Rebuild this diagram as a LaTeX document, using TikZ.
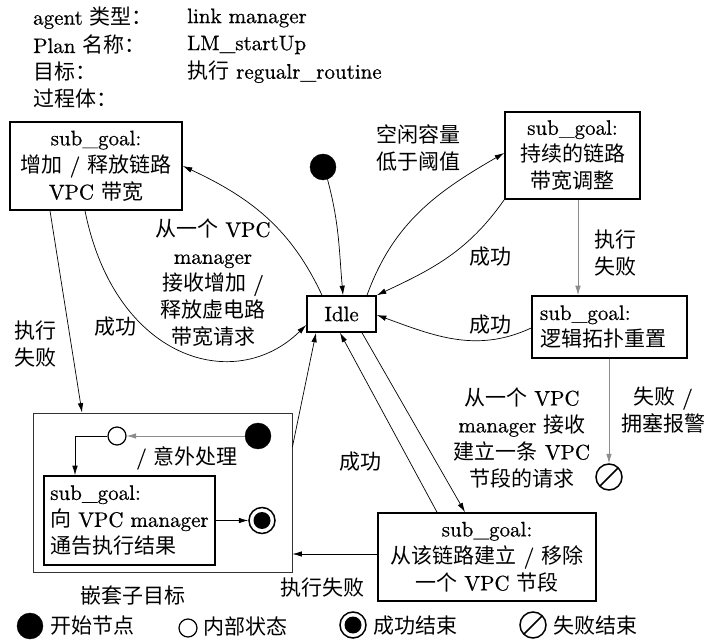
\documentclass[tikz,border=0pt]{standalone}
\usepackage{fontspec}
\setmainfont{lmroman10-regular}[Extension=.otf, FakeBold=0.6]
\newfontfamily\cjkfont{Noto Sans CJK SC}
\newcommand{\ZH}[1]{{\cjkfont #1}}
\usetikzlibrary{arrows.meta}
\tikzset{
  every node/.style={font=\fontsize{21}{27}\selectfont},
  goal/.style={draw, line width=1.6pt, align=center, inner sep=0pt},
  lab/.style={align=center, inner sep=0pt},
  arr/.style={-{Latex[length=9.5pt,width=5.5pt]}, line width=0.7pt},
  garr/.style={arr, draw=black!45},
  startdot/.style={circle, fill=black, draw=black, minimum size=26pt, inner sep=0pt},
  statedot/.style={circle, draw=black, line width=1.2pt, minimum size=18pt, inner sep=0pt},
  enddot/.style={circle, draw=black, line width=1.5pt, minimum size=26pt, inner sep=0pt,
    path picture={\fill[black] (path picture bounding box.center) circle (8.5pt);}},
  faildot/.style={circle, draw=black, line width=1.5pt, minimum size=26pt, inner sep=0pt,
    path picture={\draw[line width=1.5pt] (path picture bounding box.south west) -- (path picture bounding box.north east);}}
}
\begin{document}
\begin{tikzpicture}[x=1pt,y=1pt]
\useasboundingbox (0,0) rectangle (710,-644);
% header
\node[lab, anchor=west] (h1) at (33,-18) {agent \ZH{类型：}};
\node[lab, anchor=west] (h2) at (33,-45) {Plan \ZH{名称：}};
\node[lab, anchor=west] (h3) at (33,-72) {\ZH{目标：}};
\node[lab, anchor=west] (h4) at (33,-99) {\ZH{过程体：}};
\node[lab, anchor=west] (h5) at (187,-18) {link manager};
\node[lab, anchor=west] (h6) at (187,-45) {LM\_startUp};
\node[lab, anchor=west] (h7) at (187,-72) {\ZH{执行} regualr\_routine};
% boxes
\node[goal, minimum width=172pt, minimum height=88pt] (A) at (96,-166) {sub\_goal:\\\ZH{增加} / \ZH{释放链路}\\VPC \ZH{带宽}};
\node[goal, minimum width=135pt, minimum height=87pt] (B) at (572.5,-155.5) {sub\_goal:\\\ZH{持续的链路}\\\ZH{带宽调整}};
\node[goal, text width=139pt, inner xsep=8pt, minimum height=62pt, align=left] (C) at (609.5,-327) {sub\_goal:\\\ZH{逻辑拓扑重置}};
\node[goal, minimum width=218pt, minimum height=88pt] (D) at (487,-557) {sub\_goal:\\\ZH{从该链路建立} / \ZH{移除}\\\ZH{一个} VPC \ZH{节段}};
\node[goal, minimum width=69pt, minimum height=36pt] (Idle) at (341.5,-314) {Idle};
\node[draw, line width=0.8pt, draw=black!80, minimum width=259pt, minimum height=159pt] (E) at (162.5,-492.5) {};
\node[goal, align=left, minimum width=171pt, minimum height=89pt] (F) at (129.5,-520.5) {sub\_goal:\\\ZH{向} VPC manager\\\ZH{通告执行结果}};
% states
\node[startdot] (S) at (323,-167) {};
\node[startdot] (IS) at (258,-436) {};
\node[statedot] (IC) at (117,-436) {};
\node[enddot] (SE) at (262,-520.5) {};
\node[faildot] (FE) at (609,-477) {};
% connectors
\draw[arr] ([xshift=-19.5pt]Idle.north) to[out=115,in=-25] (A.east);
\draw[arr] ([xshift=-11pt]A.south) .. controls (115,-360) and (235,-395) .. ([yshift=-11pt]Idle.west);
\draw[arr] ([xshift=-46pt]A.south) -- ([xshift=-80.5pt]E.north);
\draw[arr] (S.-70) to[out=-75,in=95] ([xshift=1.5pt]Idle.north);
\draw[arr] ([xshift=25.5pt]Idle.north) to[out=70,in=210] ([yshift=2.5pt]B.west);
\draw[arr] (B.south west) to[out=-125,in=25] (Idle.north east);
\coordinate (bc) at (578,0);
\draw[garr] (B.south -| bc) -- (C.north -| bc);
\draw[arr] ([yshift=-1pt]C.west) to[out=205,in=-20] ([yshift=-1pt]Idle.east);
\draw[garr] (C.south -| FE) -- (FE.north);
\draw[arr] ([xshift=20.5pt]Idle.south) -- ([xshift=-22pt]D.north);
\draw[arr] ([xshift=-50pt]D.north) -- ([xshift=-1.5pt]Idle.south);
\coordinate (yde) at (0,-554);
\draw[arr] (D.west |- yde) -- (E.east |- yde);
\coordinate (yei) at (0,-447);
\draw[arr] (E.east |- yei) -- ([xshift=-25.5pt]Idle.south);
\draw[garr] (IS) -- (IC);
\coordinate (xf) at (75,0);
\draw[arr] (IC.west) -| (F.north -| xf);
\draw[arr] (F.east) -- (SE.west);
% labels
\node[lab] (l1) at (213,-283) {\ZH{从一个} VPC\\manager\\\ZH{接收增加} /\\\ZH{释放虚电路}\\\ZH{带宽请求}};
\node[lab] (l2) at (115,-327) {\ZH{成功}};
\node[lab] (l3) at (35,-344) {\ZH{执行}\\\ZH{失败}};
\node[lab] (l4) at (418,-148) {\ZH{空闲容量}\\\ZH{低于阈值}};
\node[lab] (l5) at (490,-257) {\ZH{成功}};
\node[lab] (l6) at (615,-253) {\ZH{执行}\\\ZH{失败}};
\node[lab] (l7) at (490,-325) {\ZH{成功}};
\node[lab] (l8) at (522,-438) {\ZH{从一个} VPC\\manager \ZH{接收}\\\ZH{建立一条} VPC\\\ZH{节段的请求}};
\node[lab] (l9) at (663,-410) {\ZH{失败} /\\\ZH{拥塞报警}};
\node[lab] (l10) at (360,-462) {\ZH{成功}};
\node[lab] (l11) at (322,-588) {\ZH{执行失败}};
\node[lab] (l12) at (133,-596) {\ZH{嵌套子目标}};
\node[lab] (l13) at (187,-458) {/ \ZH{意外处理}};
% legend
\node[startdot] (L1) at (30,-626) {};
\node[lab, anchor=west] (L1t) at (50,-626) {\ZH{开始节点}};
\node[statedot] (L2) at (188,-628) {};
\node[lab, anchor=west] (L2t) at (203,-626) {\ZH{内部状态}};
\node[enddot] (L3) at (353,-625) {};
\node[lab, anchor=west] (L3t) at (373,-626) {\ZH{成功结束}};
\node[faildot] (L4) at (533,-625) {};
\node[lab, anchor=west] (L4t) at (553,-626) {\ZH{失败结束}};
\end{tikzpicture}
\end{document}
